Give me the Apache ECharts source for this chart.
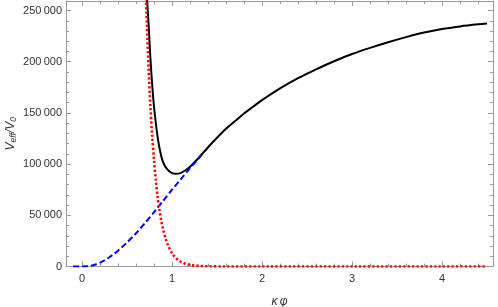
<!DOCTYPE html>
<html>
<head>
<meta charset="utf-8">
<script src="https://cdn.jsdelivr.net/npm/echarts@6/dist/echarts.min.js"></script>
<style>html,body{margin:0;padding:0;background:#fff}#c{width:498px;height:307px}</style>
</head>
<body>
<div id="c"></div>
<script>
// ---- data ----
const blackX = [0.70,0.72,0.74,0.76,0.78,0.80,0.83,0.86,0.90,0.95,1.00,1.05,1.10,1.15,1.20,1.30,1.40,1.50,1.60,1.70,1.80,1.90,2.00,2.20,2.40,2.60,2.80,3.00,3.20,3.40,3.60,3.80,4.00,4.20,4.40,4.50];
const blackY = [300000,265000,236000,203000,177000,156000,133000,116000,102000,94500,91200,90500,91500,94000,97500,106500,116500,125800,134500,142000,149500,156000,162500,174000,184000,192500,200500,207500,213500,219000,224000,228500,232000,234500,236500,237300];

const blueX = [-0.10,0.00,0.05,0.10,0.15,0.20,0.25,0.30,0.35,0.40,0.50,0.60,0.70,0.80,0.90,1.00,1.10,1.20,1.30,1.33];
const blueY = [0,0,200,800,2000,3800,6000,8800,12000,15500,23500,32500,42500,53000,64000,75000,85500,96000,106000,109000];

const redX = [0.70,0.72,0.74,0.76,0.78,0.80,0.82,0.84,0.86,0.88,0.90,0.93,0.96,1.00,1.05,1.10,1.15,1.20,1.30,1.40,1.60,2.00,3.00,4.00,4.50];
const redY = [292000,238000,193000,156000,127000,104000,84000,68000,55300,45000,36700,26900,19700,13000,7700,4600,2700,1600,600,200,30,0,0,0,0];

const xMajor = [0,1,2,3,4];
const xMinor = [0.2,0.4,0.6,0.8,1.2,1.4,1.6,1.8,2.2,2.4,2.6,2.8,3.2,3.4,3.6,3.8,4.2,4.4];
const yMajor = [0,50000,100000,150000,200000,250000];
const yMinor = [10000,20000,30000,40000,60000,70000,80000,90000,110000,120000,130000,140000,160000,170000,180000,190000,210000,220000,230000,240000];

const X_MIN = -0.178, X_MAX = 4.566, Y_MIN = 0, Y_MAX = 259300;

const pairs = (xs, ys) => xs.map((x, i) => [x, ys[i]]);
const fmtNum = v => String(v).replace(/\B(?=(\d{3})+(?!\d))/g, '\u2009');

const AX = '#9a9a9a';
const LBL = '#333';
const FONT = 'Liberation Sans, Arial, sans-serif';

function xAxisDef(pos, ticks, len, showLine, labels, extra) {
  return Object.assign({
    type: 'value', position: pos, min: X_MIN, max: X_MAX,
    axisLine: { show: showLine, onZero: false, lineStyle: { color: AX, width: 1 } },
    axisTick: { show: true, inside: true, length: len, customValues: ticks, lineStyle: { color: AX, width: 1 } },
    axisLabel: labels ? { show: true, customValues: xMajor, margin: 7, color: LBL, fontSize: 11, fontFamily: FONT, formatter: v => String(v) } : { show: false },
    splitLine: { show: false }, minorTick: { show: false }
  }, extra || {});
}
function yAxisDef(pos, ticks, len, showLine, labels, extra) {
  return Object.assign({
    type: 'value', position: pos, min: Y_MIN, max: Y_MAX,
    axisLine: { show: showLine, onZero: false, lineStyle: { color: AX, width: 1 } },
    axisTick: { show: true, inside: true, length: len, customValues: ticks, lineStyle: { color: AX, width: 1 } },
    axisLabel: labels ? { show: true, customValues: yMajor, margin: 4, color: LBL, fontSize: 11, fontFamily: FONT, formatter: v => fmtNum(v) } : { show: false },
    splitLine: { show: false }, minorTick: { show: false }
  }, extra || {});
}

const chart = echarts.init(document.getElementById('c'), null, { renderer: 'canvas' });
chart.setOption({
  animation: false,
  backgroundColor: '#fff',
  grid: { left: 66, right: 5, top: 1, bottom: 40.5, containLabel: false, outerBoundsMode: 'none' },
  xAxis: [
    xAxisDef('bottom', xMajor, 5, true, true, {
      name: 'κ\u2009φ', nameLocation: 'middle', nameGap: 29, nameMoveOverlap: false,
      nameTextStyle: { fontStyle: 'italic', fontSize: 12, color: LBL, fontFamily: FONT }
    }),
    xAxisDef('bottom', xMinor, 3, false, false),
    xAxisDef('top', xMajor, 5, true, false),
    xAxisDef('top', xMinor, 3, false, false)
  ],
  yAxis: [
    yAxisDef('left', yMajor, 5, true, true, {
      name: '{v|V}{s|eff}{v|/V}{s|0}', nameLocation: 'middle', nameGap: 48, nameRotate: 90, nameMoveOverlap: false,
      nameTextStyle: {
        color: LBL, fontFamily: FONT, fontSize: 12,
        rich: {
          v: { fontStyle: 'italic', fontSize: 12, color: LBL, fontFamily: FONT, lineHeight: 15 },
          s: { fontStyle: 'italic', fontSize: 8.5, color: LBL, fontFamily: FONT, verticalAlign: 'bottom', lineHeight: 8, padding: [6, 0, 0, 0] }
        }
      }
    }),
    yAxisDef('left', yMinor, 3, false, false),
    yAxisDef('right', yMajor, 5, true, false),
    yAxisDef('right', yMinor, 3, false, false)
  ],
  series: [
    {
      type: 'line', xAxisIndex: 0, yAxisIndex: 0, data: pairs(blackX, blackY),
      showSymbol: false, smooth: 0.3, clip: true,
      lineStyle: { color: '#000', width: 2 }, z: 3
    },
    {
      type: 'line', xAxisIndex: 0, yAxisIndex: 0, data: pairs(blueX, blueY),
      showSymbol: false, smooth: 0.3, clip: true,
      lineStyle: { color: '#0000ff', width: 2, type: [6, 3] }, z: 4
    },
    {
      type: 'line', xAxisIndex: 0, yAxisIndex: 0, data: pairs(redX, redY),
      showSymbol: false, smooth: 0.3, clip: true,
      lineStyle: { color: '#ff0000', width: 2.6, type: [2.2, 2.2] }, z: 5
    }
  ]
});
</script>
</body>
</html>
